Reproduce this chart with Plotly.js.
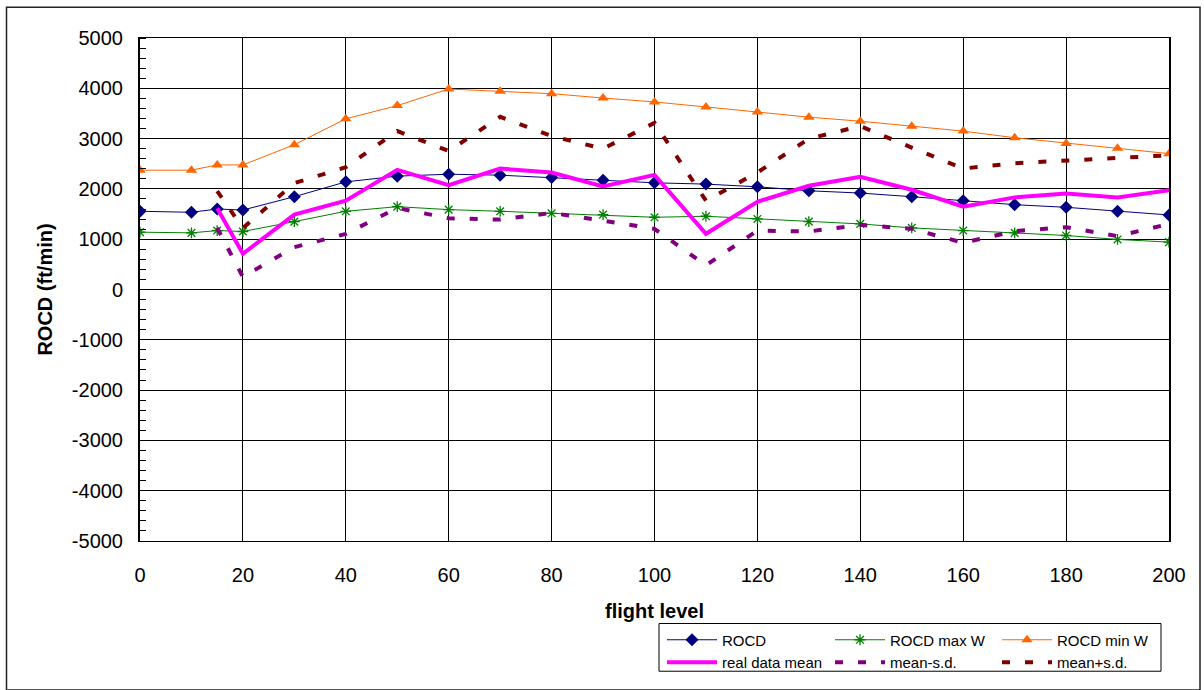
<!DOCTYPE html>
<html>
<head>
<meta charset="utf-8">
<script src="https://cdn.plot.ly/plotly-3.0.1.min.js"></script>
<style>html,body{margin:0;padding:0;background:#fff;}#chart{width:1204px;height:690px;}</style>
</head>
<body>
<div id="chart"></div>
<script>
// Flight levels (x) for the model curves
const flightLevel = [0,10,15,20,30,40,50,60,70,80,90,100,110,120,130,140,150,160,170,180,190,200];
const rocd     = [1555,1535,1600,1580,1845,2140,2253,2292,2273,2227,2174,2121,2095,2042,1963,1917,1845,1765,1686,1634,1555,1482];
const rocdMaxW = [1140,1126,1172,1153,1350,1555,1647,1588,1555,1515,1489,1436,1456,1403,1350,1304,1225,1172,1126,1074,995,942];
const rocdMinW = [2372,2372,2477,2477,2879,3393,3656,3986,3939,3893,3807,3728,3630,3531,3426,3346,3248,3149,3017,2905,2806,2701];

// Flight levels (x) for the real-data curves
const flightLevelReal = [15,20,30,40,50,60,70,80,90,100,110,120,130,140,150,160,170,180,190,200];
const realMean    = [1614,711,1489,1765,2378,2075,2405,2326,2049,2279,1107,1745,2062,2239,1983,1647,1831,1910,1831,1976];
const meanMinusSd = [1225,250,843,1107,1620,1417,1390,1522,1370,1206,481,1172,1153,1285,1206,929,1160,1239,1061,1304];
const meanPlusSd  = [1957,1219,2115,2431,3150,2753,3433,3050,2800,3313,1765,2326,2998,3248,2820,2405,2510,2556,2615,2668];

const seriesNames = ['ROCD','ROCD max W','ROCD min W','real data mean','mean-s.d.','mean+s.d.'];
const xTickVals = [0,20,40,60,80,100,120,140,160,180,200];
const xTickText = ['0','20','40','60','80','100','120','140','160','180','200'];
const yTickVals = [-5000,-4000,-3000,-2000,-1000,0,1000,2000,3000,4000,5000];
const yTickText = ['-5000','-4000','-3000','-2000','-1000','0','1000','2000','3000','4000','5000'];

const FONT = 'Liberation Sans, Arial, sans-serif';

const traces = [
  {x: flightLevel, y: rocd, name: seriesNames[0], mode: 'lines+markers', legend: 'legend',
   line: {color: '#000080', width: 1}, marker: {symbol: 'diamond', size: 10, color: '#000080'}},
  {x: flightLevel, y: rocdMaxW, name: seriesNames[1], mode: 'lines+markers', legend: 'legend2',
   line: {color: '#008000', width: 1}, marker: {symbol: 'asterisk-open', size: 9, color: '#008000', line: {color: '#008000', width: 1.3}}},
  {x: flightLevel, y: rocdMinW, name: seriesNames[2], mode: 'lines+markers', legend: 'legend3',
   line: {color: '#FF6600', width: 1}, marker: {symbol: 'triangle-up', size: 10, color: '#FF6600'}},
  {x: flightLevelReal, y: realMean, name: seriesNames[3], mode: 'lines', legend: 'legend',
   line: {color: '#FF00FF', width: 4}},
  {x: flightLevelReal, y: meanMinusSd, name: seriesNames[4], mode: 'lines', legend: 'legend2',
   line: {color: '#800080', width: 4, dash: '8px,15px'}},
  {x: flightLevelReal, y: meanPlusSd, name: seriesNames[5], mode: 'lines', legend: 'legend3',
   line: {color: '#800000', width: 4, dash: '8px,15px'}}
];

const L = 140, R = 35, T = 38, B = 146, W = 1204, H = 690;
const pw = W - L - R, ph = H - T - B;
function px2paperX(px){ return (px - L) / pw; }
function px2paperY(py){ return (H - B - py) / ph; }

function legendAt(leftPx) {
  return {
    orientation: 'v', x: px2paperX(leftPx), y: px2paperY(627), xanchor: 'left', yanchor: 'top',
    borderwidth: 0, bgcolor: 'rgba(0,0,0,0)',
    font: {family: FONT, size: 15, color: '#000'},
    itemwidth: 50, traceorder: 'normal', tracegroupgap: 0
  };
}

const layout = {
  width: W, height: H,
  margin: {l: L, r: R, t: T, b: B},
  paper_bgcolor: '#fff', plot_bgcolor: '#fff',
  font: {family: FONT, color: '#000', size: 20},
  showlegend: true,
  xaxis: {
    range: [0, 200], tickmode: 'array', tickvals: xTickVals, ticktext: xTickText,
    showgrid: true, gridcolor: '#000', gridwidth: 1,
    showline: true, linecolor: '#000', linewidth: 1, mirror: true,
    zeroline: false, ticks: '', ticklabelstandoff: 16,
    tickfont: {family: FONT, size: 20, color: '#000'},
    title: {text: '<b>flight level</b>', font: {family: FONT, size: 20, color: '#000'}, standoff: 18}
  },
  yaxis: {
    range: [-5000, 5000], tickmode: 'array', tickvals: yTickVals, ticktext: yTickText,
    showgrid: true, gridcolor: '#000', gridwidth: 1,
    showline: true, linecolor: '#000', linewidth: 2, mirror: true,
    zeroline: false, ticks: '', ticklabelstandoff: 11,
    minor: {dtick: 200, tick0: 0, ticks: 'inside', ticklen: 6, tickcolor: '#000', tickwidth: 1, showgrid: false},
    tickfont: {family: FONT, size: 20, color: '#000'},
    title: {text: '<b>ROCD (ft/min)</b>', font: {family: FONT, size: 20, color: '#000'}, standoff: 14}
  },
  legend: legendAt(662),
  legend2: legendAt(830),
  legend3: legendAt(997),
  shapes: [
    {type: 'rect', xref: 'paper', yref: 'paper',
     x0: px2paperX(6.5), x1: px2paperX(1200), y0: px2paperY(694), y1: px2paperY(7),
     line: {color: '#222', width: 1.5}, fillcolor: 'rgba(0,0,0,0)', layer: 'below'},
    {type: 'rect', xref: 'paper', yref: 'paper',
     x0: px2paperX(659), x1: px2paperX(1161), y0: px2paperY(675), y1: px2paperY(627),
     line: {color: '#000', width: 1}, fillcolor: 'rgba(0,0,0,0)', layer: 'below'}
  ]
};

Plotly.newPlot('chart', traces, layout, {displayModeBar: false, staticPlot: true});
</script>
</body>
</html>
